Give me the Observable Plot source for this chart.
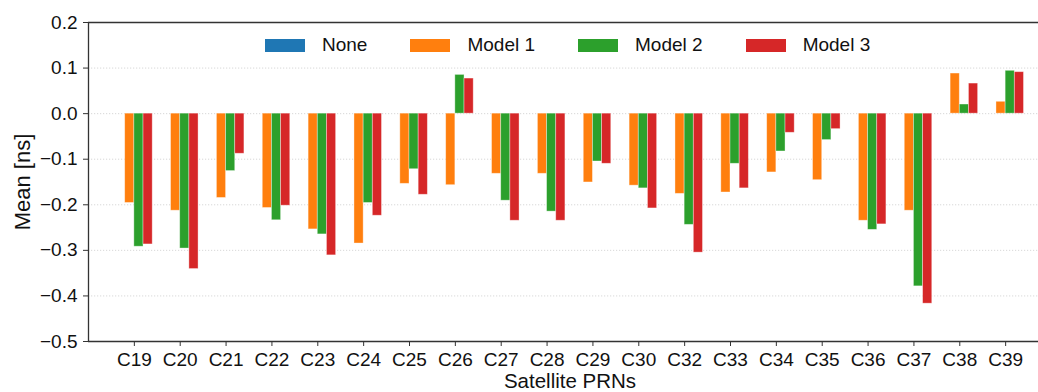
<!DOCTYPE html>
<html>
<head>
<meta charset="utf-8">
<script src="https://cdn.jsdelivr.net/npm/d3@7"></script>
<script src="https://cdn.jsdelivr.net/npm/@observablehq/plot@0.6"></script>
<style>
  html, body { margin: 0; padding: 0; background: #fff; overflow: hidden; }
  #wrap { position: relative; width: 1038px; height: 392px; overflow: hidden; font-family: "Liberation Sans", Arial, sans-serif; }
  #wrap svg { overflow: hidden; }
  #legend { position: absolute; left: 265px; top: 34px; display: flex; align-items: center; font-size: 19px; color: #111; }
  .item { display: flex; align-items: center; margin-right: 43px; }
  .sw { width: 40px; height: 13px; margin-right: 17px; }
</style>
</head>
<body>
<div id="wrap"></div>
<script>
const prns = ["C19","C20","C21","C22","C23","C24","C25","C26","C27","C28","C29","C30","C32","C33","C34","C35","C36","C37","C38","C39"];
const seriesNames = ["None", "Model 1", "Model 2", "Model 3"];
const seriesColors = ["#1f77b4", "#ff7f0e", "#2ca02c", "#d62728"];
const none   = [0,0,0,0,0,0,0,0,0,0,0,0,0,0,0,0,0,0,0,0];
const model1 = [-0.196,-0.213,-0.185,-0.207,-0.254,-0.285,-0.154,-0.157,-0.132,-0.132,-0.151,-0.158,-0.176,-0.173,-0.129,-0.146,-0.235,-0.213,0.088,0.026];
const model2 = [-0.292,-0.296,-0.126,-0.234,-0.265,-0.196,-0.122,0.085,-0.191,-0.215,-0.105,-0.164,-0.244,-0.110,-0.083,-0.058,-0.255,-0.379,0.020,0.094];
const model3 = [-0.287,-0.341,-0.088,-0.202,-0.311,-0.224,-0.178,0.077,-0.235,-0.235,-0.110,-0.208,-0.305,-0.164,-0.042,-0.034,-0.243,-0.417,0.066,0.091];
const yTicks = [-0.5,-0.4,-0.3,-0.2,-0.1,0.0,0.1,0.2];

const seriesValues = [none, model1, model2, model3];
const barWidth = 0.2;
const rows = [];
seriesValues.forEach((vals, s) => {
  vals.forEach((v, i) => {
    const off = -0.4 + s * barWidth;
    rows.push({series: seriesNames[s], i, x1: i + off, x2: i + off + barWidth, v});
  });
});

const fontFamily = '"Liberation Sans", Arial, sans-serif';
const plot = Plot.plot({
  width: 1038,
  height: 392,
  marginLeft: 88,
  marginRight: -13,
  marginTop: 22,
  marginBottom: 51,
  style: {fontFamily, fontSize: "19px", color: "#111", background: "white"},
  x: {type: "linear", domain: [-1, prns.length]},
  y: {domain: [yTicks[0], yTicks[yTicks.length - 1]]},
  color: {domain: seriesNames, range: seriesColors},
  marks: [
    Plot.gridY({ticks: yTicks.slice(1, -1), stroke: "#c8c8c8", strokeOpacity: 0.9, strokeWidth: 0.8, strokeDasharray: "1.2,1.8"}),
    Plot.rect(rows.filter(d => d.v !== 0), {x1: "x1", x2: "x2", y1: 0, y2: "v", fill: "series", stroke: "white", strokeOpacity: 0.45, strokeWidth: 0.8}),
    Plot.ruleX([-1], {stroke: "#333", strokeWidth: 1.3}),
    Plot.ruleY([yTicks[0]], {stroke: "#333", strokeWidth: 1.3}),
    Plot.ruleY([yTicks[yTicks.length - 1]], {stroke: "#333", strokeWidth: 1.3}),
    Plot.axisY({ticks: yTicks, tickFormat: d3.format(".1f"), tickSize: 5, tickPadding: 6, label: null, stroke: "#333"}),
    Plot.axisX({ticks: d3.range(prns.length), tickFormat: i => prns[i], tickSize: 5, tickPadding: 6, label: null, stroke: "#333"}),
    Plot.text(["Mean [ns]"], {text: d => d, frameAnchor: "left", rotate: -90, dx: -66, fontSize: 22, textAnchor: "middle", lineAnchor: "middle"}),
    Plot.text(["Satellite PRNs"], {text: d => d, frameAnchor: "bottom", dy: 40, fontSize: 20.5, textAnchor: "middle", lineAnchor: "middle"})
  ]
});

const wrap = document.getElementById("wrap");
wrap.appendChild(plot);

const legend = document.createElement("div");
legend.id = "legend";
seriesNames.forEach((name, k) => {
  const item = document.createElement("div");
  item.className = "item";
  const sw = document.createElement("span");
  sw.className = "sw";
  sw.style.background = seriesColors[k];
  const label = document.createElement("span");
  label.textContent = name;
  item.appendChild(sw);
  item.appendChild(label);
  legend.appendChild(item);
});
wrap.appendChild(legend);
</script>
</body>
</html>
